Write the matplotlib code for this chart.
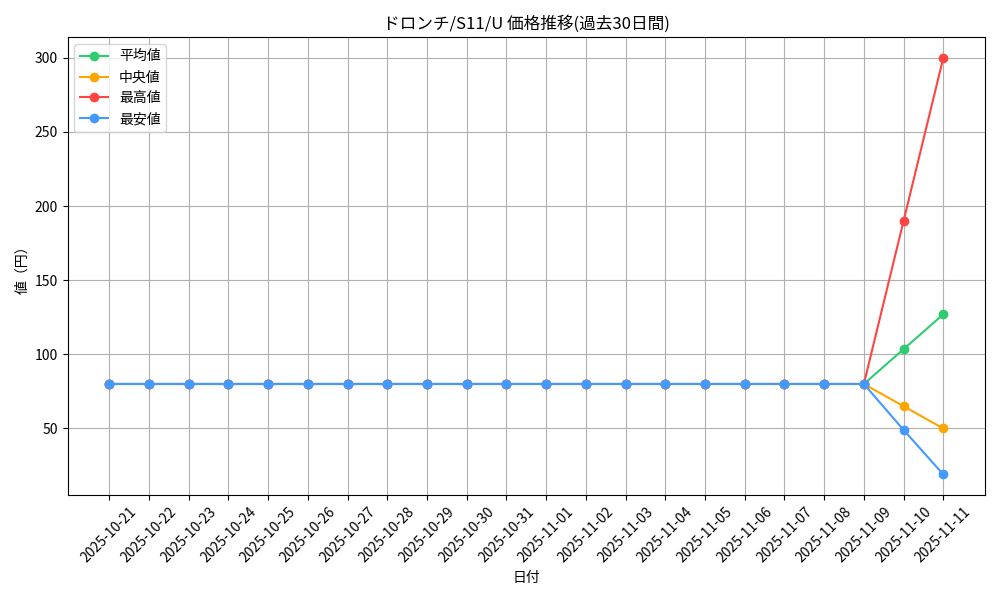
import matplotlib
matplotlib.use("Agg")
import matplotlib.pyplot as plt

plt.rcParams['font.family'] = ['Noto Sans CJK JP', 'DejaVu Sans']

dates = ["2025-10-21", "2025-10-22", "2025-10-23", "2025-10-24", "2025-10-25",
         "2025-10-26", "2025-10-27", "2025-10-28", "2025-10-29", "2025-10-30",
         "2025-10-31", "2025-11-01", "2025-11-02", "2025-11-03", "2025-11-04",
         "2025-11-05", "2025-11-06", "2025-11-07", "2025-11-08", "2025-11-09",
         "2025-11-10", "2025-11-11"]

avg_prices = [80] * 20 + [103.5, 127]
median_prices = [80] * 20 + [65, 50]
max_prices = [80] * 20 + [190, 300]
min_prices = [80] * 20 + [49, 19]

fig, ax = plt.subplots(figsize=(10, 6), dpi=100)
ax.plot(dates, avg_prices, marker='o', label='平均値', color='#2ecc71')
ax.plot(dates, median_prices, marker='o', label='中央値', color='#ffa500')
ax.plot(dates, max_prices, marker='o', label='最高値', color='#ff4444')
ax.plot(dates, min_prices, marker='o', label='最安値', color='#4499ff')

ax.set_title('ドロンチ/S11/U 価格推移(過去30日間)')
ax.set_xlabel('日付')
ax.set_ylabel('値（円）')
plt.xticks(rotation=45)
ax.legend(loc='upper left')
ax.grid(True)
plt.tight_layout()
plt.savefig('out.png')
